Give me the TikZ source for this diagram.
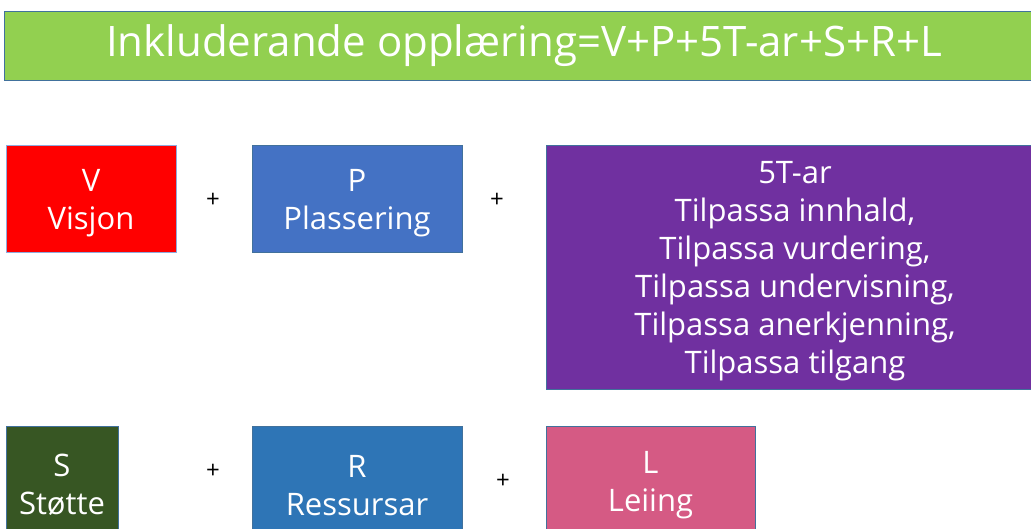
\documentclass[tikz,border=0pt]{standalone}
\usepackage{fontspec}
\setmainfont{Open Sans}
\definecolor{titlegreen}{HTML}{92D050}
\definecolor{vred}{HTML}{FF0000}
\definecolor{pblue}{HTML}{4472C4}
\definecolor{tpurple}{HTML}{7030A0}
\definecolor{sgreen}{HTML}{375623}
\definecolor{rblue}{HTML}{2E75B6}
\definecolor{lpink}{HTML}{D55A84}
\definecolor{bord}{HTML}{41719C}
\definecolor{lightbord}{HTML}{8FAADC}
\newcommand{\topstrut}{\rule{0pt}{31pt}}
\begin{document}
\begin{tikzpicture}[x=1pt,y=-1pt,
  box/.style={draw=bord, line width=0.8pt, text=white, align=center,
    font=\fontsize{31}{38}\selectfont, inner sep=0pt},
  plus/.style={font=\fontsize{24}{24}\selectfont, inner sep=0pt}]
\useasboundingbox (0,0) rectangle (1031,528);
\clip (0,0) rectangle (1031,528);
\node[box, fill=titlegreen, minimum width=1040, minimum height=69,
  font=\fontsize{42}{50}\selectfont] (title) at (524,45.5)
  {Inkluderande opplæring=V+P+5T-ar+S+R+L};
\node[box, draw=lightbord, fill=vred, minimum width=170, minimum height=107] (v) at (91,198.5) {\topstrut V\\Visjon};
\node[plus] (p1) at (213,200) {+};
\node[box, fill=pblue, minimum width=210, minimum height=107] (p) at (357,198.5) {\topstrut P\\Plassering};
\node[plus] (p2) at (497,200) {+};
\node[box, fill=tpurple, minimum width=498, minimum height=244] (t) at (795,267)
  {\topstrut 5T-ar\\Tilpassa innhald,\\Tilpassa vurdering,\\Tilpassa undervisning,\\Tilpassa anerkjenning,\\Tilpassa tilgang};
\node[box, fill=sgreen, minimum width=112, minimum height=110] (s) at (62,481) {\topstrut S\\Støtte};
\node[plus] (p3) at (213,471) {+};
\node[box, fill=rblue, minimum width=210, minimum height=110] (r) at (357,481) {\topstrut R\\Ressursar};
\node[plus] (p4) at (503,481) {+};
\node[box, fill=lpink, minimum width=209, minimum height=110] (l) at (650.5,481) {\topstrut L\\Leiing};
\end{tikzpicture}
\end{document}
